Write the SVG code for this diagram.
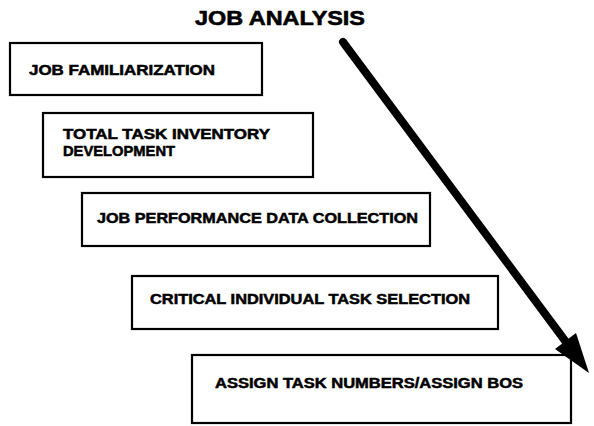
<svg xmlns="http://www.w3.org/2000/svg" width="594" height="426" viewBox="0 0 594 426">
<style>
.box{fill:#fff;stroke:#000;stroke-width:2.2}
.t{font-family:"Liberation Sans",Arial,sans-serif;font-weight:bold;font-size:14px;fill:#000;stroke:#000;stroke-width:0.5}
.title{font-family:"Liberation Sans",Arial,sans-serif;font-weight:bold;font-size:21px;fill:#000;stroke:#000;stroke-width:0.6}
</style>
<rect width="594" height="426" fill="#fff"/>
<text class="title" x="195" y="25" textLength="170" lengthAdjust="spacingAndGlyphs">JOB ANALYSIS</text>
<g id="n1">
<rect class="box" x="10" y="43" width="252" height="52"/>
<text class="t" x="29" y="75" textLength="186" lengthAdjust="spacingAndGlyphs">JOB FAMILIARIZATION</text>
</g>
<g id="n2">
<rect class="box" x="43" y="113" width="270" height="64"/>
<text class="t" x="63" y="139" textLength="207" lengthAdjust="spacingAndGlyphs">TOTAL TASK INVENTORY</text>
<text class="t" x="63" y="156" textLength="112" lengthAdjust="spacingAndGlyphs">DEVELOPMENT</text>
</g>
<g id="n3">
<rect class="box" x="82" y="193" width="348" height="53"/>
<text class="t" x="97" y="223" textLength="321" lengthAdjust="spacingAndGlyphs">JOB PERFORMANCE DATA COLLECTION</text>
</g>
<g id="n4">
<rect class="box" x="132" y="276" width="366" height="53"/>
<text class="t" x="150" y="304" textLength="320" lengthAdjust="spacingAndGlyphs">CRITICAL INDIVIDUAL TASK SELECTION</text>
</g>
<g id="n5">
<rect class="box" x="192" y="355" width="379" height="68"/>
<text class="t" x="215" y="388" textLength="308" lengthAdjust="spacingAndGlyphs">ASSIGN TASK NUMBERS/ASSIGN BOS</text>
</g>
<g id="connectors">
<line x1="343" y1="42" x2="566" y2="342" stroke="#000" stroke-width="8" stroke-linecap="round"/>
<polygon points="589,373 576,333 555,349" fill="#000"/>
</g>
</svg>
